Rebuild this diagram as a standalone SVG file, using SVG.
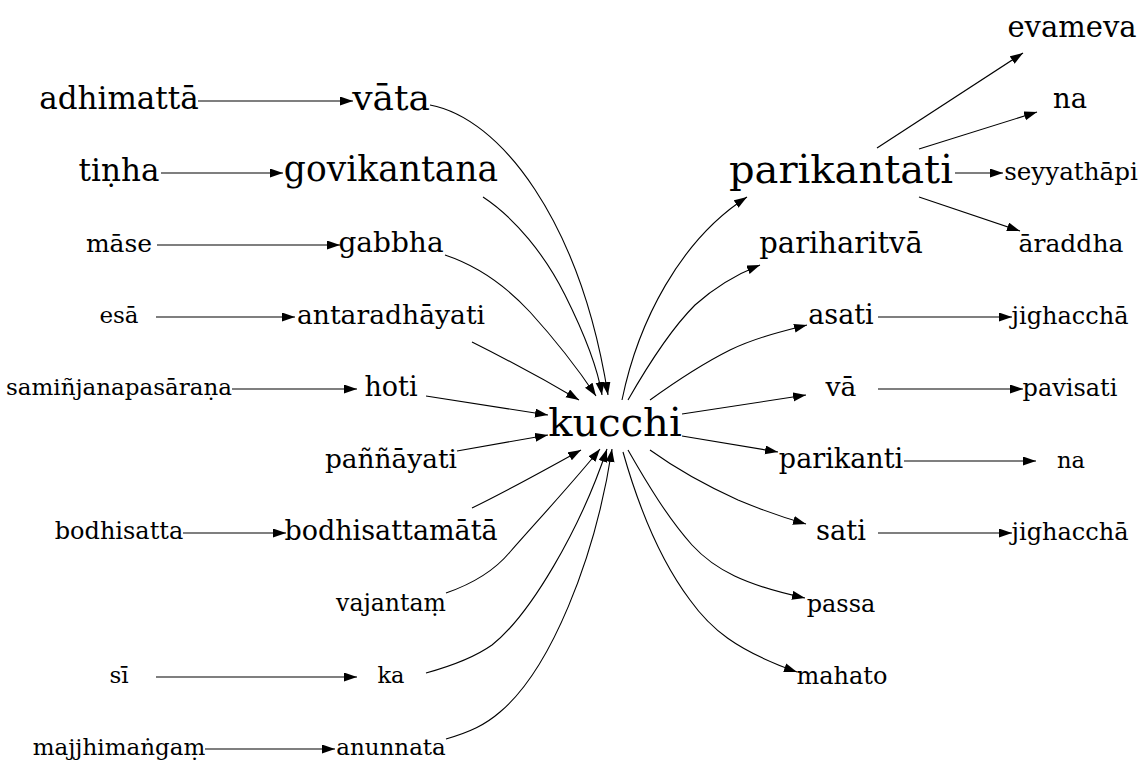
<svg xmlns="http://www.w3.org/2000/svg" width="1145" height="779" viewBox="0 0 1145 779">
<defs>
<marker id="ah" markerUnits="userSpaceOnUse" markerWidth="14" markerHeight="10" refX="13" refY="4.5" orient="auto">
<path d="M0,0 L13,4.5 L0,9 z" fill="#000"/>
</marker>
<style>
text{font-family:"DejaVu Serif","Liberation Serif",serif;fill:#000;text-anchor:middle}
.e path{fill:none;stroke:#000;stroke-width:1.1;marker-end:url(#ah)}
</style>
</defs>
<rect width="1145" height="779" fill="#fff"/>
<g id="edges" class="e">
<path d="M198,101 L353,101"/>
<path d="M161,173 L283,173"/>
<path d="M157,245 L340,245"/>
<path d="M156,317 L295,317"/>
<path d="M232,389 L357,389"/>
<path d="M183,533 L286,533"/>
<path d="M156,677 L357,677"/>
<path d="M205,749 L335,749"/>
<path d="M430,105 C500,118 580,220 608,395"/>
<path d="M483,197 C515,218 545,255 565,295 C585,335 598,370 602,395"/>
<path d="M445,255 C475,265 505,285 530,312 C560,345 582,375 596,396"/>
<path d="M472,342 C500,356 540,377 579,400"/>
<path d="M426,396 L548,415"/>
<path d="M457,451 L548,435"/>
<path d="M472,508 C505,492 545,470 581,450"/>
<path d="M446,593 C475,583 495,570 510,552 C540,518 575,480 600,449"/>
<path d="M426,673 C455,665 475,657 492,645 C530,615 580,530 607,449"/>
<path d="M446,739 C470,732 485,725 500,712 C550,670 595,560 612,449"/>
<path d="M622,400 C638,322 680,240 747,197"/>
<path d="M628,400 C648,365 670,330 695,305 C715,287 735,275 760,265"/>
<path d="M650,400 C675,382 700,365 730,350 C755,338 780,332 807,325"/>
<path d="M682,414 L806,395"/>
<path d="M682,436 L778,452"/>
<path d="M650,450 C675,468 705,485 738,500 C762,510 785,518 806,524"/>
<path d="M628,450 C648,485 668,518 692,545 C715,570 745,585 805,598"/>
<path d="M623,452 C638,505 660,560 690,600 C710,628 735,650 797,672"/>
<path d="M877,148 L1023,53"/>
<path d="M919,149 L1037,112"/>
<path d="M955,173 L1003,173"/>
<path d="M919,197 L1020,231"/>
<path d="M878,317 L1012,317"/>
<path d="M878,389 L1023,389"/>
<path d="M904,461 L1036,461"/>
<path d="M878,533 L1012,533"/>
</g>
<g id="n_adhimatta"><text x="119" y="109" font-size="31">adhimattā</text></g>
<g id="n_tinha"><text x="119" y="181" font-size="31">tiṇha</text></g>
<g id="n_mase"><text x="119" y="251.5" font-size="25">māse</text></g>
<g id="n_esa"><text x="119" y="323" font-size="23">esā</text></g>
<g id="n_saminjana"><text x="119" y="395" font-size="23">samiñjanapasāraṇa</text></g>
<g id="n_bodhisatta"><text x="119" y="539" font-size="24">bodhisatta</text></g>
<g id="n_si"><text x="119" y="683" font-size="23">sī</text></g>
<g id="n_majjhimangam"><text x="119" y="755" font-size="23">majjhimaṅgaṃ</text></g>
<g id="n_vata"><text x="391" y="109.5" font-size="36">vāta</text></g>
<g id="n_govikantana"><text x="391" y="181" font-size="34.5">govikantana</text></g>
<g id="n_gabbha"><text x="391" y="252" font-size="28">gabbha</text></g>
<g id="n_antaradhayati"><text x="391" y="324" font-size="26.6">antaradhāyati</text></g>
<g id="n_hoti"><text x="391" y="396" font-size="27">hoti</text></g>
<g id="n_pannayati"><text x="391" y="468" font-size="26.4">paññāyati</text></g>
<g id="n_bodhisattamata"><text x="391" y="540" font-size="27">bodhisattamātā</text></g>
<g id="n_vajantam"><text x="391" y="611" font-size="23.6">vajantaṃ</text></g>
<g id="n_ka"><text x="391" y="683" font-size="22.5">ka</text></g>
<g id="n_anunnata"><text x="391" y="755" font-size="23">anunnata</text></g>
<g id="n_kucchi"><text x="615" y="435.5" font-size="40">kucchi</text></g>
<g id="n_parikantati"><text x="841" y="183" font-size="40">parikantati</text></g>
<g id="n_pariharitva"><text x="841" y="252.5" font-size="29">pariharitvā</text></g>
<g id="n_asati"><text x="841" y="324" font-size="27">asati</text></g>
<g id="n_va"><text x="841" y="396" font-size="26.6">vā</text></g>
<g id="n_parikanti"><text x="841" y="468" font-size="27">parikanti</text></g>
<g id="n_sati"><text x="841" y="540" font-size="27.3">sati</text></g>
<g id="n_passa"><text x="841" y="611.5" font-size="24">passa</text></g>
<g id="n_mahato"><text x="842" y="683.5" font-size="24">mahato</text></g>
<g id="n_evameva"><text x="1072" y="36.5" font-size="29">evameva</text></g>
<g id="n_na1"><text x="1070" y="108" font-size="27.4">na</text></g>
<g id="n_seyyathapi"><text x="1071" y="179.5" font-size="24.6">seyyathāpi</text></g>
<g id="n_araddha"><text x="1071" y="251.5" font-size="25">āraddha</text></g>
<g id="n_jighaccha1"><text x="1070" y="323.5" font-size="24">jighacchā</text></g>
<g id="n_pavisati"><text x="1070" y="395.5" font-size="24">pavisati</text></g>
<g id="n_na2"><text x="1071" y="467.5" font-size="22.6">na</text></g>
<g id="n_jighaccha2"><text x="1070" y="539.5" font-size="24">jighacchā</text></g>
</svg>
